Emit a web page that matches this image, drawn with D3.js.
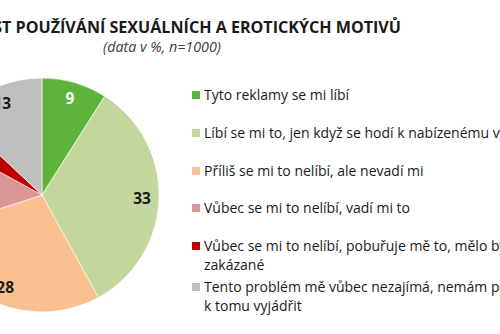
<!DOCTYPE html>
<html>
<head>
<meta charset="utf-8">
<script src="https://cdn.jsdelivr.net/npm/d3@7"></script>
<style>
  html, body { margin: 0; padding: 0; background: #fff; }
  svg { display: block; }
  text { font-family: "Open Sans", "Noto Sans", sans-serif; }
</style>
</head>
<body>
<svg id="chart" width="500" height="334"></svg>
<script>
// Survey answers (percent, n=1000)
const categories = [
  "Tyto reklamy se mi líbí",
  "Líbí se mi to, jen když se hodí k nabízenému výrobku",
  "Příliš se mi to nelíbí, ale nevadí mi",
  "Vůbec se mi to nelíbí, vadí mi to",
  "Vůbec se mi to nelíbí, pobuřuje mě to, mělo by to být|zakázané",
  "Tento problém mě vůbec nezajímá, nemám potřebu se|k tomu vyjádřit"
];
const values = [9, 33, 28, 13, 4, 13];
const colors = ["#5cb43a", "#c3d69b", "#fac090", "#d99694", "#c00000", "#bfbfbf"];
const labelColors = ["#ffffff", "#1a1a1a", "#1a1a1a", "#1a1a1a", "#ffffff", "#1a1a1a"];
const title = "PŘIJATELNOST POUŽÍVÁNÍ SEXUÁLNÍCH A EROTICKÝCH MOTIVŮ";
const subtitle = "(data v %, n=1000)";

const svg = d3.select("#chart");

// Title block
svg.append("text")
  .attr("x", 401).attr("y", 33)
  .attr("text-anchor", "end")
  .attr("font-weight", "bold")
  .attr("font-size", 16.1)
  .attr("fill", "#1a1a1a")
  .text(title);

svg.append("text")
  .attr("x", 162).attr("y", 52)
  .attr("text-anchor", "middle")
  .attr("font-style", "italic")
  .attr("font-size", 14.3)
  .attr("fill", "#404040")
  .text(subtitle);

// Pie
const cx = 42, cy = 195, r = 117;
const pie = d3.pie().sort(null).value(d => d)(values);
const arc = d3.arc().innerRadius(0).outerRadius(r);
const labelArc = d3.arc().innerRadius(r * 0.855).outerRadius(r * 0.855);

const g = svg.append("g").attr("transform", `translate(${cx},${cy})`);
g.selectAll("path")
  .data(pie)
  .join("path")
  .attr("d", arc)
  .attr("fill", (d, i) => colors[i])
  .attr("stroke", "#ffffff")
  .attr("stroke-width", 0.6);

g.selectAll("text.val")
  .data(pie)
  .join("text")
  .attr("class", "val")
  .attr("transform", d => `translate(${labelArc.centroid(d)})`)
  .attr("text-anchor", "middle")
  .attr("dy", "0.35em")
  .attr("font-weight", "bold")
  .attr("font-size", 15.5)
  .attr("fill", (d, i) => labelColors[i])
  .text(d => d.data);

// Legend
const legendX = 192;
const rowY = [95, 133, 171, 208, 246, 287];
const lineH = 19.5;
const lg = svg.append("g");
categories.forEach((c, i) => {
  const row = lg.append("g").attr("transform", `translate(${legendX},${rowY[i]})`);
  row.append("rect")
    .attr("x", 0).attr("y", -4)
    .attr("width", 8).attr("height", 8)
    .attr("fill", colors[i]);
  const t = row.append("text")
    .attr("x", 12).attr("y", 0)
    .attr("font-size", 14)
    .attr("fill", "#1a1a1a");
  c.split("|").forEach((line, k) => {
    t.append("tspan").attr("x", 12).attr("dy", k === 0 ? "0.35em" : lineH).text(line);
  });
});
</script>
</body>
</html>
